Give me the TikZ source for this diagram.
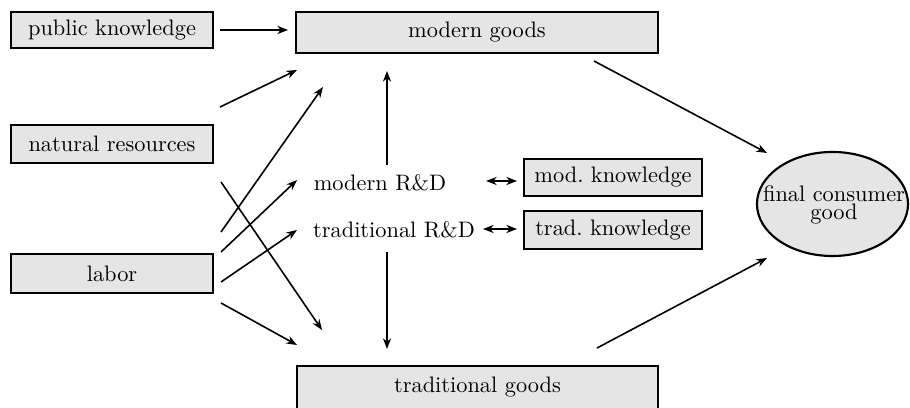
\documentclass[tikz,border=0pt]{standalone}
\usetikzlibrary{arrows.meta,shapes.geometric}
\newcommand\pxu{0.4695pt}
\newcommand\txtsize{\fontsize{10.5}{12.6}\selectfont}
\tikzset{
  box/.style={draw, line width=1pt, fill=black!10, inner sep=0pt, font=\txtsize},
  lbl/.style={inner sep=0pt, font=\txtsize},
  arr/.style={line width=0.75pt, -{Stealth[length=5pt,width=3.8pt,inset=1.6pt]}},
  darr/.style={line width=0.75pt, {Stealth[length=5pt,width=3.8pt,inset=1.6pt]}-{Stealth[length=5pt,width=3.8pt,inset=1.6pt]}}
}
\begin{document}
\begin{tikzpicture}[x=0.0165cm,y=-0.0165cm]
\useasboundingbox (0,0) rectangle (910,408);
% nodes
\node[box, minimum width=202*\pxu, minimum height=36*\pxu] (pk) at (112,30) {public knowledge};
\node[box, minimum width=202*\pxu, minimum height=38*\pxu] (nr) at (112,144) {natural resources};
\node[box, minimum width=202*\pxu, minimum height=39*\pxu] (lab) at (112,273.5) {labor};
\node[box, minimum width=362*\pxu, minimum height=41*\pxu] (mg) at (477,32.5) {modern goods};
\node[box, minimum width=361*\pxu, minimum height=44*\pxu] (tg) at (477.5,388) {};
\node[lbl] (tgt) at (477.5,387) {traditional goods};
\node[box, minimum width=178*\pxu, minimum height=37*\pxu] (mk) at (613,177.5) {mod.~knowledge};
\node[box, minimum width=178*\pxu, minimum height=38*\pxu] (tk) at (613,230) {trad.~knowledge};
\node[lbl] (mrd) at (380,183) {modern R\&D};
\node[lbl] (trd) at (394,230) {traditional R\&D};
\node[draw, line width=1pt, fill=black!10, ellipse, minimum width=151*\pxu, minimum height=104*\pxu, inner sep=0pt] (fc) at (832.5,204) {};
\node[lbl, align=center] (fct) at (834,205) {final consumer\\[-4.2pt]good};
% connector end points
\coordinate (a1s) at (220,30);   \coordinate (a1e) at (288,30);
\coordinate (a2s) at (220,107);  \coordinate (a2e) at (297,70);
\coordinate (a3s) at (221,232);  \coordinate (a3e) at (323,87);
\coordinate (a4s) at (221,252);  \coordinate (a4e) at (297,180);
\coordinate (a5s) at (221,282);  \coordinate (a5e) at (297,230);
\coordinate (a6s) at (221,303);  \coordinate (a6e) at (297,345);
\coordinate (a7s) at (221,182);  \coordinate (a7e) at (322,330);
\coordinate (a8s) at (387,165);  \coordinate (a8e) at (387,71);
\coordinate (a9s) at (387,252);  \coordinate (a9e) at (387,349);
\coordinate (b1s) at (486,181);  \coordinate (b1e) at (517,181);
\coordinate (b2s) at (483,229);  \coordinate (b2e) at (517,229);
\coordinate (c1s) at (594,61);   \coordinate (c1e) at (767,153);
\coordinate (c2s) at (597,348);  \coordinate (c2e) at (767,258);
% connectors
\draw[arr] (a1s) -- (a1e);
\draw[arr] (a2s) -- (a2e);
\draw[arr] (a3s) -- (a3e);
\draw[arr] (a4s) -- (a4e);
\draw[arr] (a5s) -- (a5e);
\draw[arr] (a6s) -- (a6e);
\draw[arr] (a7s) -- (a7e);
\draw[arr] (a8s) -- (a8e);
\draw[arr] (a9s) -- (a9e);
\draw[darr] (b1s) -- (b1e);
\draw[darr] (b2s) -- (b2e);
\draw[arr] (c1s) -- (c1e);
\draw[arr] (c2s) -- (c2e);
\end{tikzpicture}
\end{document}
